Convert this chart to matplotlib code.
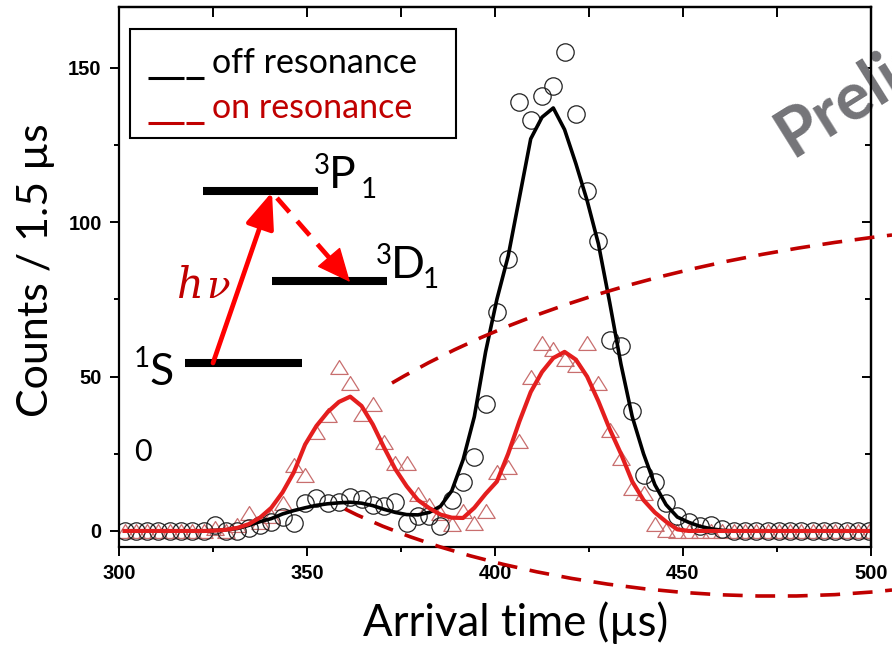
import numpy as np
import matplotlib
matplotlib.use('Agg')
import matplotlib.pyplot as plt
from matplotlib.transforms import Affine2D
from matplotlib.patches import Rectangle, FancyArrowPatch, PathPatch
from matplotlib.path import Path
from matplotlib.lines import Line2D

W, H = 892, 647

# arrival time bins (us), one point every 3 us
t = np.arange(301.5, 500, 3.0)

# measured counts, off resonance (circles)
off_counts = [0, 0, 0, 0, 0, 0, 0, 0, 2, 0,
              0, 1, 2, 3, 4.5, 2.5, 9, 10.7, 9, 9.5,
              11, 10.5, 8.5, 8, 9.5, 2.6, 5, 5, 1.5, 10,
              16, 24, 41, 71, 88, 139, 133, 141, 144, 155,
              135, 110, 94, 62, 60, 39, 18, 16, 9, 5,
              3, 1.5, 2, 0.5, 0, 0, 0, 0, 0, 0,
              0, 0, 0, 0, 0, 0, 0]
# measured counts, on resonance (triangles)
on_counts = [0, 0, 0, 0, 0, 0, 0, 0, 1, 0,
             2, 5.7, 3, 5, 9, 21.4, 18, 32, 37.6, 53,
             48, 38, 41, 28.7, 22, 22, 12, 8.5, 5.7, 2.3,
             6.5, 2.5, 6.3, 19.2, 20.8, 29, 50, 61, 59, 55.8,
             53.8, 61, 48, 32.7, 23.5, 13.8, 12.2, 2.2, 0.3, 0,
             0, 0, 0, 0, 0, 0, 0, 0, 0, 0,
             0, 0, 0, 0, 0, 0, 0]
# smoothed curves
off_fit = [0, 0, 0, 0, 0, 0, 0, 0, 0.2, 0.4,
           0.8, 1.8, 3, 4, 5.5, 6.6, 7.5, 8.3, 8.8, 9.1,
           9.3, 9, 8.2, 7, 6, 5.3, 5.2, 6, 8, 13,
           23, 37, 58, 75, 89, 108, 127, 134, 137, 130,
           119, 107, 93, 74, 54, 37, 25, 15, 8.5, 4.5,
           2.8, 1.5, 0.7, 0.2, 0, 0, 0, 0, 0, 0,
           0, 0, 0, 0, 0, 0, 0]
on_fit = [0, 0, 0, 0, 0, 0, 0, 0, 0.1, 0.4,
          1, 2.2, 4.3, 7.5, 12.5, 19, 28, 34, 38.5, 41.8,
          43.5, 40.5, 34.5, 27, 20, 14.5, 10, 7.4, 5.3, 4.3,
          4.2, 7.5, 12, 16, 25, 35.5, 45, 51.5, 56, 58,
          55.5, 50, 42, 33, 25, 16, 10, 6, 3, 0.5,
          0, 0, 0, 0, 0, 0, 0, 0, 0, 0,
          0, 0, 0, 0, 0, 0, 0]

xticks = [300, 350, 400, 450, 500]
xminor = [325, 375, 425, 475]
yticks = [0, 50, 100, 150]
yminor = [25, 75, 125]

RED = '#e41e1e'
DARKRED = '#c00000'

fig = plt.figure(figsize=(W / 100, H / 100), dpi=100)
ax = fig.add_axes([119 / W, 1 - 547 / H, 752 / W, 540 / H])
pix = Affine2D().scale(1 / W, -1 / H).translate(0, 1) + fig.transFigure

tri = Path([(0, 0.8), (-1, -0.8), (1, -0.8), (0, 0.8)], closed=True)
ax.plot(t, on_counts, ls='none', marker=tri, ms=12.5, mfc='none', mec='#c86e6e', mew=0.9)
ax.plot(t, off_counts, ls='none', marker='o', ms=12.5, mfc='none', mec='#222222', mew=0.9)
ax.plot(t, off_fit, color='black', lw=2.6)
ax.plot(t, on_fit, color=RED, lw=3.0)

ax.set_xlim(300, 500)
ax.set_ylim(-5.2, 169.7)
ax.set_xticks(xticks)
ax.set_xticks(xminor, minor=True)
ax.set_yticks(yticks)
ax.set_yticks(yminor, minor=True)
for s in ax.spines.values():
    s.set_linewidth(1.6)
ax.tick_params(which='both', direction='out', width=1.4, top=False, right=False)
ax.tick_params(which='major', length=6.5)
ax.tick_params(which='minor', length=3.6)
ax.tick_params(axis='x', pad=6)
ax.tick_params(axis='y', pad=6)
for lab in ax.get_xticklabels() + ax.get_yticklabels():
    lab.set_fontfamily('Liberation Sans')
    lab.set_fontweight('bold')
    lab.set_fontsize(14.5)

secx = ax.secondary_xaxis('top')
secx.set_xticks(xticks)
secx.set_xticks(xminor, minor=True)
secx.tick_params(which='both', direction='in', length=7, width=1.4, labeltop=False)
secx.spines['top'].set_linewidth(1.6)
secy = ax.secondary_yaxis('right')
secy.set_yticks(yticks)
secy.set_yticks(yminor, minor=True)
secy.tick_params(which='major', direction='in', length=6.5, width=1.4, labelright=False)
secy.tick_params(which='minor', direction='in', length=4.3, width=1.4)
secy.spines['right'].set_linewidth(1.6)

ax.set_xlabel('Arrival time (µs)', fontsize=31.5, family='Lato')
ax.xaxis.set_label_coords(0.527, -0.1)
ax.set_ylabel('Counts / 1.5 µs', fontsize=31, family='Lato')
ax.yaxis.set_label_coords(-0.085, 0.513)

# legend box
ax.add_patch(Rectangle((130, 29), 326, 109, transform=pix, fill=False, ec='black',
                       lw=1.5, clip_on=False, zorder=6))
for y, c in [(78, 'black'), (123, DARKRED)]:
    ax.add_line(Line2D([148, 184], [y, y], transform=pix, color=c, lw=2.2,
                       solid_capstyle='butt', clip_on=False, zorder=6))
    ax.add_line(Line2D([186, 204], [y, y], transform=pix, color=c, lw=2.2,
                       solid_capstyle='butt', clip_on=False, zorder=6))
ax.text(212, 73, 'off resonance', transform=pix, fontsize=24.5, family='Lato', color='black', va='baseline')
ax.text(212, 118, 'on resonance', transform=pix, fontsize=24.5, family='Lato', color=DARKRED, va='baseline')

# level diagram
for x0, x1, y in [(203, 318, 191), (272, 387, 281), (185, 302, 363)]:
    ax.add_line(Line2D([x0, x1], [y, y], transform=pix, color='black', lw=5.8,
                       solid_capstyle='butt', clip_on=False, zorder=5))

def level_label(x, y, pre, main, sub):
    ax.text(x, y - 14, pre, transform=pix, fontsize=20, family='Lato', va='baseline', zorder=6)
    ax.text(x + 15, y, main, transform=pix, fontsize=32, family='Lato', va='baseline', zorder=6)
    if sub:
        ax.text(x + 47, y + 10, sub, transform=pix, fontsize=20, family='Lato', va='baseline', zorder=6)

level_label(314, 188, '3', 'P', '1')
level_label(376, 278, '3', 'D', '1')
ax.text(134, 367, '1', transform=pix, fontsize=20, family='Lato', va='baseline', zorder=6)
ax.text(149, 385, 'S', transform=pix, fontsize=32, family='Lato', va='baseline', zorder=6)
ax.text(143, 452, '0', transform=pix, fontsize=22, family='Lato', ha='center', va='center', zorder=6)

ax.add_patch(FancyArrowPatch((213, 363), (272, 192), transform=pix, color='red', lw=3.4,
                             arrowstyle='-|>,head_length=1.0,head_width=0.4', mutation_scale=22,
                             shrinkA=0, shrinkB=0, clip_on=False, zorder=7))
ax.add_line(Line2D([277, 340], [198, 270], transform=pix, color='red', lw=3.4,
                   dashes=(4, 2.5), clip_on=False, zorder=7))
ax.add_patch(FancyArrowPatch((333, 262), (350, 282), transform=pix, color='red', lw=1,
                             arrowstyle='-|>,head_length=1.0,head_width=0.45', mutation_scale=22,
                             shrinkA=0, shrinkB=0, clip_on=False, zorder=7))
ax.text(177, 298, 'h', transform=pix, fontsize=30, family='DejaVu Serif', style='italic',
        color=DARKRED, va='baseline', zorder=6)
ax.text(206, 298, 'ν', transform=pix, fontsize=28, family='DejaVu Serif', style='italic',
        color=DARKRED, va='baseline', zorder=6)

# zoom call-out curves
up = Path([(392, 383), (582, 271), (892, 235)], [Path.MOVETO, Path.CURVE3, Path.CURVE3])
lo = Path([(345, 509), (470, 572), (690, 612), (892, 590)],
          [Path.MOVETO, Path.CURVE4, Path.CURVE4, Path.CURVE4])
for p in (up, lo):
    ax.add_patch(PathPatch(p, transform=pix, fill=False, ec=DARKRED, lw=2.6,
                           ls=(0, (5.5, 3.5)), clip_on=False, zorder=8))

# watermark
ax.text(792, 158, 'Preliminary', transform=pix, rotation=32, rotation_mode='anchor',
        fontsize=48, fontweight='bold', family='Lato', color='#747478',
        ha='left', va='baseline', clip_on=False, zorder=1)

fig.savefig('out.png', dpi=100)
